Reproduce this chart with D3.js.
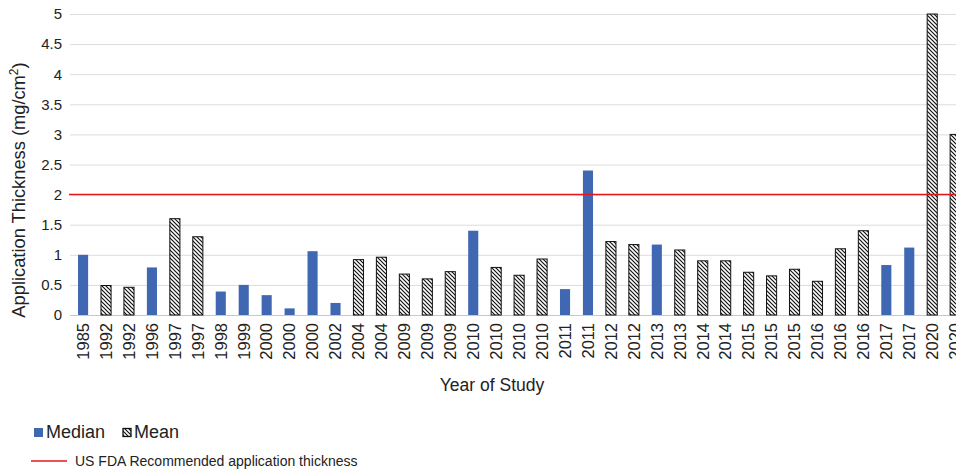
<!DOCTYPE html>
<html>
<head>
<meta charset="utf-8">
<script src="https://cdn.jsdelivr.net/npm/d3@7"></script>
<style>
  body { margin: 0; background: #fff; }
  svg { display: block; font-family: "Liberation Sans", Arial, sans-serif; }
</style>
</head>
<body>
<script>
var w = 956;
var h = 469;

// data
var years = ["1985", "1992", "1992", "1996", "1997", "1997", "1998", "1999", "2000", "2000",
  "2000", "2002", "2004", "2004", "2009", "2009", "2009", "2010", "2010", "2010",
  "2010", "2011", "2011", "2012", "2012", "2013", "2013", "2014", "2014", "2015",
  "2015", "2015", "2016", "2016", "2016", "2017", "2017", "2020", "2020"];
var kinds = ["median", "mean", "mean", "median", "mean", "mean", "median", "median", "median", "median",
  "median", "median", "mean", "mean", "mean", "mean", "mean", "median", "mean", "mean",
  "mean", "median", "median", "mean", "mean", "median", "mean", "mean", "mean", "mean",
  "mean", "mean", "mean", "mean", "mean", "median", "median", "mean", "mean"];
var values = [1.0, 0.49, 0.46, 0.79, 1.6, 1.3, 0.39, 0.5, 0.33, 0.11,
  1.06, 0.2, 0.92, 0.96, 0.68, 0.6, 0.72, 1.4, 0.79, 0.66,
  0.93, 0.43, 2.4, 1.22, 1.17, 1.17, 1.08, 0.9, 0.9, 0.71,
  0.65, 0.76, 0.56, 1.1, 1.4, 0.83, 1.12, 5.0, 3.0];
var yTicks = [0, 0.5, 1, 1.5, 2, 2.5, 3, 3.5, 4, 4.5, 5];
var fdaLimit = 2;

var dataset = years.map(function (y, i) {
  return { i: i, year: y, kind: kinds[i], value: values[i] };
});

var plotLeft = 70;
var bandStart = 71.6;
var bandW = 22.95;
var plotTop = 14;
var plotBottom = 315;

var xScale = d3
  .scaleBand()
  .domain(d3.range(years.length))
  .range([bandStart, bandStart + bandW * years.length])
  .paddingInner(0.56)
  .paddingOuter(0.28);

var yScale = d3.scaleLinear().domain([0, 5]).range([plotBottom, plotTop]);

var svg = d3.select("body").append("svg").attr("width", w).attr("height", h);

// hatch pattern for the mean bars
var defs = svg.append("defs");
defs
  .append("pattern")
  .attr("id", "hatch")
  .attr("patternUnits", "userSpaceOnUse")
  .attr("width", 4)
  .attr("height", 4)
  .append("path")
  .attr("d", "M-1,-1 L5,5 M-1,3 L1,5 M3,-1 L5,1")
  .attr("stroke", "#111")
  .attr("stroke-width", 1.2);

// gridlines
var yAxis = d3
  .axisLeft(yScale)
  .tickValues(yTicks)
  .tickSize(-(w - plotLeft))
  .tickPadding(8)
  .tickFormat(d3.format("~g"));

var gy = svg
  .append("g")
  .attr("transform", `translate(${plotLeft},0)`)
  .call(yAxis);
gy.select(".domain").remove();
gy.selectAll(".tick line").attr("stroke", "#dcdcdc").attr("stroke-width", 1);
gy.selectAll(".tick text")
  .attr("fill", "#222")
  .attr("font-size", 15)
  .attr("font-family", "Liberation Sans, Arial, sans-serif");
gy.selectAll(".tick")
  .filter(function (d) { return d === 0; })
  .select("line")
  .attr("stroke", "#c8c8c8");

// bars
svg
  .selectAll(".bar")
  .data(dataset)
  .enter()
  .append("rect")
  .attr("class", "bar")
  .attr("x", function (d) { return xScale(d.i); })
  .attr("y", function (d) { return yScale(d.value); })
  .attr("width", xScale.bandwidth())
  .attr("height", function (d) { return yScale(0) - yScale(d.value); })
  .attr("fill", function (d) { return d.kind === "median" ? "#4068b2" : "url(#hatch)"; })
  .attr("stroke", function (d) { return d.kind === "median" ? "none" : "#111"; })
  .attr("stroke-width", 1);

// FDA line
svg
  .append("line")
  .attr("x1", plotLeft - 1)
  .attr("x2", w)
  .attr("y1", yScale(fdaLimit))
  .attr("y2", yScale(fdaLimit))
  .attr("stroke", "#e8141c")
  .attr("stroke-width", 1.5);

// x axis labels
var xAxis = d3
  .axisBottom(xScale)
  .tickSize(0)
  .tickFormat(function (i) { return years[i]; });

var gx = svg
  .append("g")
  .attr("transform", `translate(0,${plotBottom})`)
  .call(xAxis);
gx.select(".domain").remove();
gx.selectAll(".tick text")
  .attr("transform", "rotate(-90)")
  .attr("text-anchor", "end")
  .attr("x", -8)
  .attr("y", 0)
  .attr("dy", "0.35em")
  .attr("fill", "#222")
  .attr("font-size", 16.5)
  .attr("font-family", "Liberation Sans, Arial, sans-serif");

// axis titles
var yTitle = svg
  .append("text")
  .attr("transform", "translate(25,190) rotate(-90)")
  .attr("text-anchor", "middle")
  .attr("font-size", 18.3)
  .attr("fill", "#222");
yTitle.append("tspan").text("Application Thickness (mg/cm");
yTitle.append("tspan").attr("font-size", 12).attr("dy", -7).text("2");
yTitle.append("tspan").attr("dy", 7).text(")");

svg
  .append("text")
  .attr("x", 492)
  .attr("y", 391)
  .attr("text-anchor", "middle")
  .attr("font-size", 17.5)
  .attr("fill", "#222")
  .text("Year of Study");

// legend
svg.append("rect").attr("x", 34).attr("y", 428).attr("width", 9).attr("height", 9).attr("fill", "#4068b2");
svg.append("text").attr("x", 46).attr("y", 438).attr("font-size", 18).attr("fill", "#222").text("Median");
svg
  .append("rect")
  .attr("x", 123).attr("y", 428.5).attr("width", 8).attr("height", 8)
  .attr("fill", "url(#hatch)").attr("stroke", "#111").attr("stroke-width", 1.3);
svg.append("text").attr("x", 134).attr("y", 438).attr("font-size", 18).attr("fill", "#222").text("Mean");

svg.append("line").attr("x1", 31).attr("x2", 67).attr("y1", 461).attr("y2", 461)
  .attr("stroke", "#e8141c").attr("stroke-width", 1.5);
svg.append("text").attr("x", 75).attr("y", 466).attr("font-size", 14).attr("fill", "#222")
  .text("US FDA Recommended application thickness");
</script>
</body>
</html>
